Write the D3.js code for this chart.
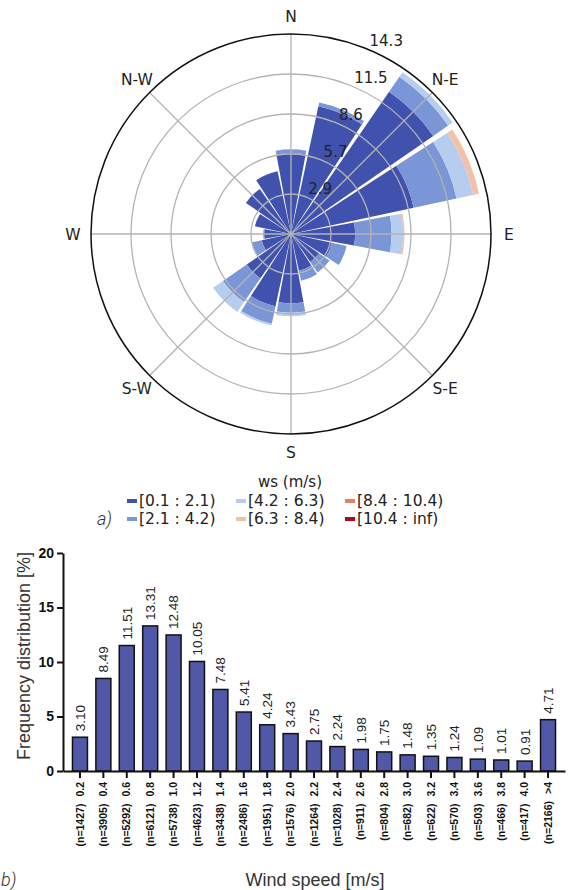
<!DOCTYPE html>
<html>
<head>
<meta charset="utf-8">
<script src="https://cdn.jsdelivr.net/npm/d3@7"></script>
<style>
  body { margin: 0; background: #fff; }
  svg { display: block; }
</style>
</head>
<body>
<svg id="chart" width="570" height="890"></svg>
<script>
// ---------- Wind rose data: frequency [%] per direction sector, one array per speed bin ----------
const directions = ["N","NNE","NE","ENE","E","ESE","SE","SSE","S","SSW","SW","WSW","W","WNW","NW","NNW"];
const speedBins = ["[0.1 : 2.1)","[2.1 : 4.2)","[4.2 : 6.3)","[6.3 : 8.4)","[8.4 : 10.4)","[10.4 : inf)"];
const binColors = ["#4152ae","#7a96d6","#b7cdf0","#f3c1a8","#e8805f","#b40426"];
const bin0 = [5.80, 9.37, 12.40, 9.00, 4.60, 3.00, 2.43, 2.70, 4.98, 5.30, 3.86, 2.15, 1.93, 2.65, 3.93, 4.60];
const bin1 = [0.28, 0.28, 1.30, 3.15, 2.62, 1.08, 0.93, 0.73, 0.67, 1.28, 2.07, 0.71, 0.07, 0.00, 0.00, 0.00];
const bin2 = [0.00, 0.00, 0.40, 1.22, 0.83, 0.00, 0.00, 0.00, 0.25, 0.14, 0.86, 0.00, 0.00, 0.00, 0.00, 0.00];
const bin3 = [0.00, 0.00, 0.00, 0.43, 0.10, 0.00, 0.00, 0.00, 0.00, 0.00, 0.00, 0.00, 0.00, 0.00, 0.00, 0.00];
const bin4 = [0.00, 0.00, 0.00, 0.00, 0.00, 0.00, 0.00, 0.00, 0.00, 0.00, 0.00, 0.00, 0.00, 0.00, 0.00, 0.00];
const bin5 = [0.00, 0.00, 0.00, 0.00, 0.00, 0.00, 0.00, 0.00, 0.00, 0.00, 0.00, 0.00, 0.00, 0.00, 0.00, 0.00];
const roseMax = 14.35;
const ringValues = [2.87, 5.74, 8.61, 11.48, 14.35];
const ringLabels = ["2.9", "5.7", "8.6", "11.5", "14.3"];
const compassLabels = ["N","N-E","E","S-E","S","S-W","W","N-W"];

// ---------- Histogram data ----------
const speedCats = ["0.2","0.4","0.6","0.8","1.0","1.2","1.4","1.6","1.8","2.0","2.2","2.4","2.6","2.8","3.0","3.2","3.4","3.6","3.8","4.0",">4"];
const counts = [1427,3905,5292,6121,5738,4623,3438,2486,1951,1576,1264,1028,911,804,682,622,570,503,466,417,2166];
const freq = [3.10,8.49,11.51,13.31,12.48,10.05,7.48,5.41,4.24,3.43,2.75,2.24,1.98,1.75,1.48,1.35,1.24,1.09,1.01,0.91,4.71];
const yTicks = [0,5,10,15,20];

const svg = d3.select("#chart");

// ================= a) wind rose =================
const cx = 291, cy = 234, R = 200;
const rose = svg.append("g").attr("transform", `translate(${cx},${cy})`);
const r = d3.scaleLinear().domain([0, roseMax]).range([0, R]);
const bins = [bin0, bin1, bin2, bin3, bin4, bin5];
const sectorStep = 2 * Math.PI / directions.length;
const sectorWidth = sectorStep * 0.925;

// stacked wedges, innermost = slowest bin
const wedges = [];
directions.forEach((d, i) => {
  let base = 0;
  bins.forEach((b, k) => {
    const v = b[i];
    if (v > 0) wedges.push({ dir: i, bin: k, y0: base, y1: base + v });
    base += v;
  });
});
const arc = d3.arc()
  .innerRadius(w => r(w.y0))
  .outerRadius(w => r(w.y1))
  .startAngle(w => w.dir * sectorStep - sectorWidth / 2)
  .endAngle(w => w.dir * sectorStep + sectorWidth / 2);
rose.append("g").selectAll("path").data(wedges).join("path")
  .attr("d", arc)
  .attr("fill", w => binColors[w.bin]);

// grid drawn above the wedges
const grid = rose.append("g").attr("fill", "none").attr("stroke", "#b3b3b3").attr("stroke-width", 1.3);
grid.selectAll("circle").data(ringValues.slice(0, -1)).join("circle").attr("r", v => r(v));
grid.selectAll("line").data(compassLabels).join("line")
  .attr("x1", 0).attr("y1", 0)
  .attr("x2", (d, i) => R * Math.sin(i * Math.PI / 4))
  .attr("y2", (d, i) => -R * Math.cos(i * Math.PI / 4));
rose.append("circle").attr("r", r(roseMax)).attr("fill", "none").attr("stroke", "#111").attr("stroke-width", 1.5);

const roseFont = "'DejaVu Sans', sans-serif";
const labelAngle = Math.PI / 8;
rose.append("g").selectAll("text").data(ringValues).join("text")
  .attr("x", v => r(v) * Math.sin(labelAngle) + 2)
  .attr("y", v => -r(v) * Math.cos(labelAngle) - 3)
  .attr("font-family", roseFont).attr("font-size", 15).attr("fill", "#222")
  .text((v, i) => ringLabels[i]);

rose.append("g").selectAll("text").data(compassLabels).join("text")
  .attr("x", (d, i) => 218 * Math.sin(i * Math.PI / 4))
  .attr("y", (d, i) => -218 * Math.cos(i * Math.PI / 4))
  .attr("text-anchor", "middle").attr("dy", "0.36em")
  .attr("font-family", roseFont).attr("font-size", 15.5).attr("fill", "#222")
  .text(d => d);

// legend (bottom row cut by the panel edge)
svg.append("defs").append("clipPath").attr("id", "legendClip")
  .append("rect").attr("x", 0).attr("y", 470).attr("width", 570).attr("height", 57);
const legend = svg.append("g").attr("clip-path", "url(#legendClip)")
  .attr("font-family", roseFont).attr("fill", "#222");
legend.append("text").attr("x", 290).attr("y", 487).attr("text-anchor", "middle")
  .attr("font-size", 15).text("ws (m/s)");
const colX = [127, 236, 345];
const rowY = [506, 524];
const entries = legend.selectAll("g.entry").data(speedBins).join("g")
  .attr("class", "entry")
  .attr("transform", (d, i) => `translate(${colX[Math.floor(i / 2)]},${rowY[i % 2]})`);
entries.append("rect").attr("x", 0).attr("y", -7).attr("width", 10).attr("height", 4)
  .attr("fill", (d, i) => binColors[i]);
entries.append("text").attr("x", 12).attr("font-size", 15.5).text(d => d);

svg.append("text").attr("x", 97).attr("y", 525)
  .attr("font-family", "Roboto, sans-serif").attr("font-style", "italic").attr("font-weight", 300)
  .attr("font-size", 18).attr("fill", "#333").text("a)");

// ================= b) histogram =================
const barFont = "'Liberation Sans', Arial, sans-serif";
const x = d3.scaleBand().domain(speedCats).range([63, 565]).paddingInner(0.36).paddingOuter(0.405);
const y = d3.scaleLinear().domain([0, 20]).range([771, 553]);
const hist = svg.append("g").attr("font-family", barFont);

hist.append("g").selectAll("rect").data(freq).join("rect")
  .attr("x", (v, i) => x(speedCats[i]))
  .attr("y", v => y(v))
  .attr("width", x.bandwidth())
  .attr("height", v => y(0) - y(v))
  .attr("fill", "#5158a7")
  .attr("stroke", "#111").attr("stroke-width", 1.5);

hist.append("g").selectAll("text").data(freq).join("text")
  .attr("transform", (v, i) => `translate(${x(speedCats[i]) + x.bandwidth() / 2},${y(v) - 6}) rotate(-90)`)
  .attr("dy", "0.36em")
  .attr("font-size", 13.5).attr("fill", "#222")
  .text(v => v.toFixed(2));

const yAxis = hist.append("g").attr("transform", "translate(63,0)")
  .call(d3.axisLeft(y).tickValues(yTicks).tickSize(6).tickSizeOuter(0).tickPadding(3));
yAxis.select(".domain").attr("stroke", "#111").attr("stroke-width", 2);
yAxis.selectAll(".tick line").attr("stroke", "#111").attr("stroke-width", 2);
yAxis.selectAll(".tick text").attr("font-family", barFont).attr("font-size", 14)
  .attr("font-weight", "bold").attr("fill", "#111");

const xAxis = hist.append("g").attr("transform", "translate(0,771)")
  .call(d3.axisBottom(x).tickSize(7).tickSizeOuter(0));
xAxis.select(".domain").attr("stroke", "#111").attr("stroke-width", 2);
xAxis.selectAll(".tick line").attr("stroke", "#111").attr("stroke-width", 2);
xAxis.selectAll(".tick text").each(function (d, i) {
  const t = d3.select(this).text(null)
    .attr("transform", "rotate(-90)")
    .attr("x", -11).attr("y", 0).attr("dy", "0.35em")
    .attr("text-anchor", "end")
    .attr("font-family", barFont).attr("font-size", 10.5).attr("font-weight", "bold").attr("fill", "#111");
  t.append("tspan").text(`(n=${counts[i]})`);
  t.append("tspan").attr("dx", 7).text(d);
});

hist.append("text")
  .attr("transform", "translate(30,656) rotate(-90)")
  .attr("text-anchor", "middle")
  .attr("font-size", 18).attr("fill", "#333")
  .text("Frequency distribution [%]");
hist.append("text")
  .attr("x", 315).attr("y", 886).attr("text-anchor", "middle")
  .attr("font-size", 18).attr("fill", "#333")
  .text("Wind speed [m/s]");

svg.append("text").attr("x", 1).attr("y", 886)
  .attr("font-family", "Roboto, sans-serif").attr("font-style", "italic").attr("font-weight", 300)
  .attr("font-size", 18).attr("fill", "#333").text("b)");
</script>
</body>
</html>
